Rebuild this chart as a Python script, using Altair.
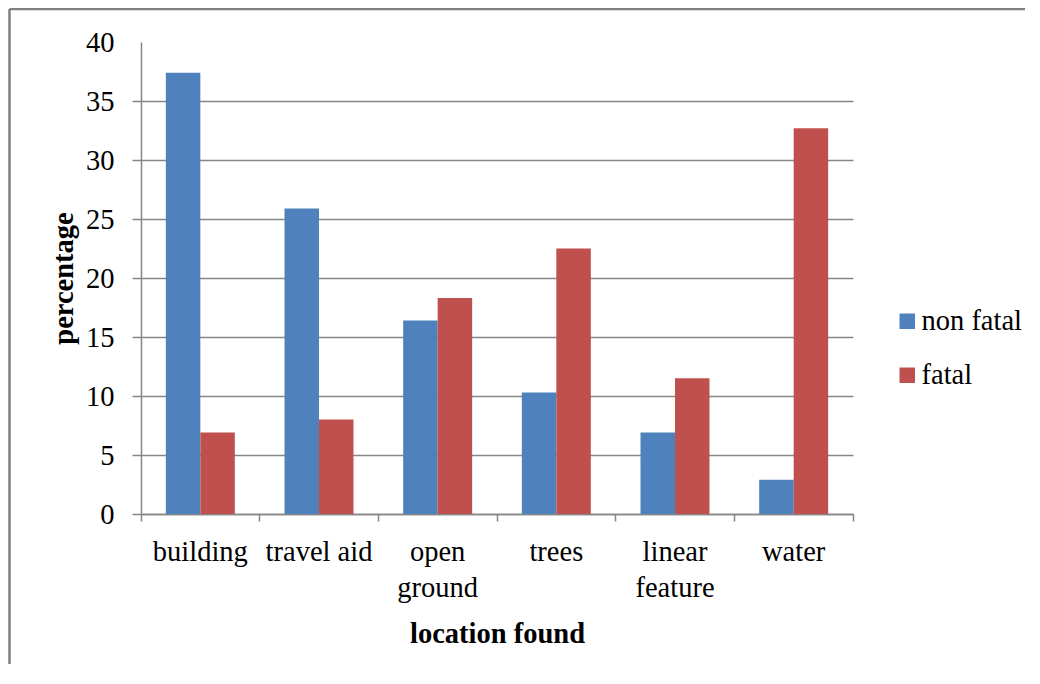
import altair as alt
import pandas as pd

categories = ["building", "travel aid", "open ground", "trees", "linear feature", "water"]
series_names = ["non fatal", "fatal"]
non_fatal = [37.4, 25.9, 16.4, 10.3, 6.9, 2.9]
fatal = [6.9, 8.0, 18.3, 22.5, 11.5, 32.7]
y_ticks = [0, 5, 10, 15, 20, 25, 30, 35, 40]
colors = ["#4F81BD", "#C0504D"]

rows = []
for c, nf, f in zip(categories, non_fatal, fatal):
    rows.append({"category": c, "series": "non fatal", "value": nf})
    rows.append({"category": c, "series": "fatal", "value": f})
df = pd.DataFrame(rows)

FONT = "Liberation Serif"
GRID = "#868686"
LABEL_SIZE = 28.5
TITLE_SIZE = 28.5

label_expr = ("datum.label == 'open ground' ? ['open', 'ground'] : "
              "datum.label == 'linear feature' ? ['linear', 'feature'] : datum.label")

bars = alt.Chart(df).mark_bar().encode(
    x=alt.X("category:N", sort=categories,
            scale=alt.Scale(paddingInner=0, paddingOuter=0),
            axis=alt.Axis(title="location found", labelAngle=0, labelExpr=label_expr,
                          labelFont=FONT, labelFontSize=LABEL_SIZE, labelColor="black",
                          labelBaseline="top", labelLineHeight=36, labelPadding=16,
                          tickSize=7, tickColor=GRID, domainColor=GRID, tickWidth=1.5,
                          domainWidth=1.5, bandPosition=1, tickExtra=True, grid=False,
                          titleFont=FONT, titleFontSize=TITLE_SIZE, titleFontWeight="bold",
                          titleColor="black", titleY=119, titleBaseline="middle")),
    xOffset=alt.XOffset("series:N", sort=series_names,
                        scale=alt.Scale(paddingInner=0, paddingOuter=0.72)),
    y=alt.Y("value:Q", scale=alt.Scale(domain=[0, 40], nice=False),
            axis=alt.Axis(values=y_ticks, title="percentage", tickSize=9,
                          labelPadding=18, labelFont=FONT, labelFontSize=LABEL_SIZE,
                          labelColor="black", tickColor=GRID, domainColor=GRID,
                          tickWidth=1.5, domainWidth=1.5,
                          gridColor=GRID, gridWidth=1.5,
                          gridOpacity={"condition": {"test": "datum.value == 40", "value": 0}, "value": 1},
                          tickOpacity={"condition": {"test": "datum.value == 40", "value": 0}, "value": 1},
                          titleFont=FONT, titleFontSize=TITLE_SIZE, titleFontWeight="bold",
                          titleColor="black", titleAngle=270, titleX=-78, titleY=236,
                          titleAlign="center", titleBaseline="middle")),
    color=alt.Color("series:N", sort=series_names,
                    scale=alt.Scale(domain=series_names, range=colors),
                    legend=alt.Legend(title=None, orient="none", legendX=752, legendY=265,
                                      symbolType="square", symbolSize=240,
                                      symbolStrokeWidth=0, labelFont=FONT,
                                      labelFontSize=LABEL_SIZE, labelColor="black",
                                      labelOffset=0, rowPadding=25, padding=0)),
)

frame_df = pd.DataFrame({"a": [0]})
left_edge = alt.Chart(frame_df).mark_rule(color="#808080", strokeWidth=2.5).encode(
    x=alt.value(-131.5), y=alt.value(-33), y2=alt.value(800))
top_edge = alt.Chart(frame_df).mark_rule(color="#808080", strokeWidth=2.5).encode(
    x=alt.value(-131.5), x2=alt.value(1100), y=alt.value(-33))

chart = alt.layer(left_edge, top_edge, bars).properties(
    width=712, height=472,
    padding={"left": 133, "top": 34, "right": 172, "bottom": 150},
    autosize=alt.AutoSizeParams(type="none"),
).configure(font=FONT).configure_view(stroke=None)

chart.save("out.html", embed_options={"renderer": "svg", "actions": False})
